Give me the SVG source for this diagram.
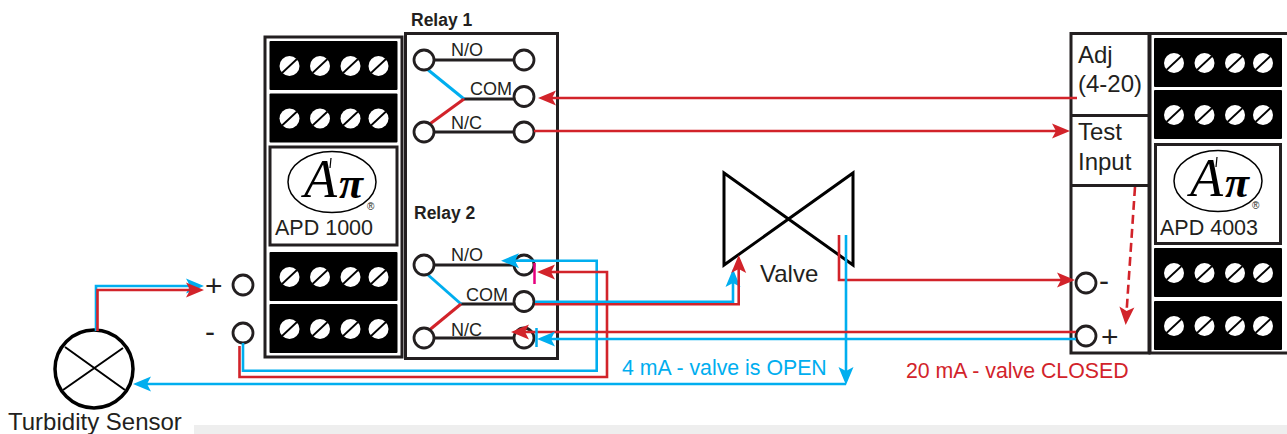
<svg xmlns="http://www.w3.org/2000/svg" width="1287" height="434" viewBox="0 0 1287 434">
<style>
text{font-family:"Liberation Sans",Arial,sans-serif;fill:#231f20}
.box{fill:#fff;stroke:#231f20;stroke-width:3}
.term{fill:#fff;stroke:#231f20;stroke-width:2.800}
.cw{stroke:#231f20;stroke-width:3;fill:none}
.r{stroke:#d2232a;stroke-width:2.600;fill:none}
.b{stroke:#00aeef;stroke-width:2.600;fill:none}
.ra{marker-end:url(#ar)}
.ba{marker-end:url(#ab)}
.lbl{font-size:18px}
.big{font-size:24px}
.rl{font-size:17.500px;font-weight:bold}
.logo{fill:#fff;stroke:#231f20;stroke-width:3}
.apd{font-size:21.500px}
.cur{font-size:21.300px}
.sym{font-size:30px}
</style>
<defs>
<marker id="ar" markerUnits="userSpaceOnUse" markerWidth="20" markerHeight="16" viewBox="0 0 20 16" refX="14" refY="8" orient="auto"><path d="M1,0.500 L19,8 L1,15.500 L5,8 Z" fill="#d2232a"/></marker>
<marker id="ab" markerUnits="userSpaceOnUse" markerWidth="20" markerHeight="16" viewBox="0 0 20 16" refX="14" refY="8" orient="auto"><path d="M1,0.500 L19,8 L1,15.500 L5,8 Z" fill="#00aeef"/></marker>
<g id="screw"><circle r="10" fill="#fff"/><line x1="-7.500" y1="7" x2="7.500" y2="-7" stroke="#000" stroke-width="1.800"/></g>
<g id="blockL"><rect width="128" height="49" rx="1" fill="#000"/><use href="#screw" x="20" y="25"/><use href="#screw" x="50.500" y="25"/><use href="#screw" x="81" y="25"/><use href="#screw" x="109" y="25"/></g>
<g id="logoMark"><ellipse cx="0" cy="0" rx="44" ry="30.500" fill="#fff" stroke="#000" stroke-width="1.500"/><text x="-28" y="15" font-size="54" font-style="italic" style="font-family:'Liberation Serif',serif;fill:#000">A</text><line x1="-1" y1="-24" x2="-2" y2="-14" stroke="#000" stroke-width="1.200"/><text x="7" y="16" font-size="44" font-weight="bold" font-style="italic" style="font-family:'Liberation Serif',serif;fill:#000">π</text></g>
</defs>
<rect id="bottom-band" x="194" y="425" width="1093" height="9" fill="#eeeeee"/>
<g id="apd1000">
<rect class="box" x="265" y="37" width="137" height="320"/>
<use href="#blockL" x="269.500" y="41"/>
<use href="#blockL" x="269.500" y="93.500"/>
<rect class="logo" x="270" y="147" width="127" height="98"/>
<use href="#logoMark" x="332" y="182"/>
<text x="367" y="210" font-size="10">®</text>
<text class="apd" x="275" y="235">APD 1000</text>
<use href="#blockL" x="269.500" y="252"/>
<use href="#blockL" x="269.500" y="304"/>
</g>
<g id="relay-box"><rect class="box" x="405.500" y="33.500" width="152" height="325"/></g>
<g id="relay1">
<text class="rl" x="411" y="26">Relay 1</text>
<path class="cw" d="M424,60H524M464,99H524M424,132H524"/>
<line x1="427" y1="69" x2="464" y2="99" stroke="#00aeef" stroke-width="3"/>
<line x1="427" y1="126" x2="464" y2="99" stroke="#d2232a" stroke-width="3"/>
<circle class="term" cx="424" cy="60" r="10"/><circle class="term" cx="524" cy="60" r="10"/><circle class="term" cx="524" cy="96.500" r="10"/><circle class="term" cx="424" cy="132" r="10"/><circle class="term" cx="524" cy="132" r="10"/>
<text class="lbl" x="451" y="56">N/O</text><text class="lbl" x="470" y="95">COM</text><text class="lbl" x="451" y="129">N/C</text>
</g>
<g id="relay2">
<text class="rl" x="414" y="219">Relay 2</text>
<path class="cw" d="M424,265H524M461,304H524M424,338H524"/>
<line x1="427" y1="274" x2="461" y2="304" stroke="#00aeef" stroke-width="3"/>
<line x1="427" y1="332" x2="461" y2="304" stroke="#d2232a" stroke-width="3"/>
<circle class="term" cx="424" cy="265" r="10"/><circle class="term" cx="524" cy="265" r="10"/><circle class="term" cx="524" cy="301.500" r="10"/><circle class="term" cx="424" cy="338" r="10"/><circle class="term" cx="524" cy="338" r="10"/>
<text class="lbl" x="451" y="261">N/O</text><text class="lbl" x="466" y="301">COM</text><text class="lbl" x="451" y="336">N/C</text>
</g>
<g id="valve">
<path d="M724,173V265L853,173V265Z" fill="none" stroke="#000" stroke-width="3" stroke-linejoin="miter"/>
<text x="760" y="282" font-size="24">Valve</text>
</g>
<g id="apd4003">
<rect class="box" x="1071" y="33.500" width="78" height="319.500"/>
<rect class="box" x="1150" y="33.500" width="140" height="319.500"/>
<path class="cw" d="M1071,115.500H1149M1071,185.500H1149"/>
<text class="big" x="1078" y="63">Adj</text><text class="big" x="1078" y="92">(4-20)</text>
<text class="big" x="1078" y="140">Test</text><text class="big" x="1078" y="170">Input</text>
<use href="#blockL" x="1154" y="38"/>
<use href="#blockL" x="1154" y="90"/>
<rect class="logo" x="1155.500" y="144.500" width="125" height="99"/>
<use href="#logoMark" x="1218" y="181"/>
<text x="1252" y="209" font-size="10">®</text>
<text class="apd" x="1160" y="235">APD 4003</text>
<use href="#blockL" x="1154" y="248"/>
<use href="#blockL" x="1154" y="301"/>
<circle class="term" cx="1086" cy="283" r="10"/><circle class="term" cx="1086" cy="336" r="10"/>
<text class="sym" x="1099" y="291">-</text><text class="sym" x="1101" y="347">+</text>
</g>
<g id="input-terminals">
<circle class="term" cx="243" cy="285" r="10"/><circle class="term" cx="243" cy="333" r="10"/>
<text class="sym" x="205" y="296">+</text><text class="sym" x="205" y="342">-</text>
</g>
<g id="sensor">
<circle cx="94" cy="369" r="39" fill="#fff" stroke="#000" stroke-width="3.500"/>
<path d="M65,347L125,390M123,348L63,390" stroke="#000" stroke-width="2" fill="none"/>
<text x="8" y="430" font-size="24">Turbidity Sensor</text>
</g>
<g id="connectors">
<path class="b ba" d="M96,331V286H199"/>
<path class="r ra" d="M97.500,331V290H199"/>
<path class="b" d="M243,343V370.700H596.700V260.700H520"/>
<path class="b ba" d="M530,260.700H506"/>
<path class="r" d="M239.500,346V377H607V272H560"/>
<path class="r ra" d="M560,272H542"/>
<line x1="534.500" y1="263" x2="534.500" y2="284" stroke="#e6007e" stroke-width="2.500"/>
<path class="b ba" d="M535,301.700H733V274"/>
<path class="r ra" d="M535,304.300H738.700V260"/>
<path class="r ra" d="M839,235V280H1070"/>
<path class="b ba" d="M846,235V380"/>
<path class="b ba" d="M846,384H138"/>
<path class="r ra" d="M1076,332H516"/>
<path class="b ba" d="M1076,339H542"/>
<line x1="536.500" y1="328" x2="536.500" y2="347" stroke="#00aeef" stroke-width="2.500"/>
<path class="r ra" d="M1077,98H543"/>
<path class="r ra" d="M534,131H1065"/>
<path class="r ra" d="M1135,187L1126,320" stroke-dasharray="9 5"/>
</g>
<g id="current-labels">
<text class="cur" x="622" y="375" style="fill:#00aeef">4 mA - valve is OPEN</text>
<text class="cur" x="906" y="378" style="fill:#d2232a">20 mA - valve CLOSED</text>
</g>
</svg>
